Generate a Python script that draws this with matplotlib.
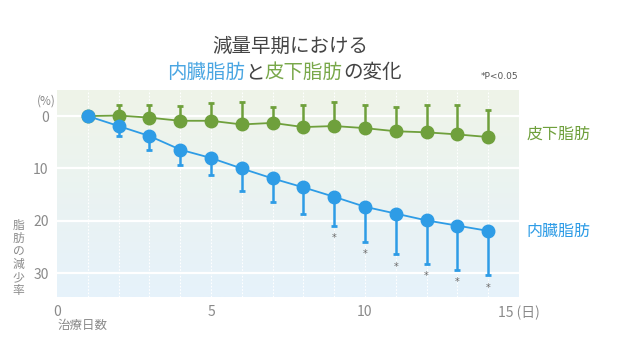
import matplotlib.pyplot as plt
import numpy as np

plt.rcParams['font.family'] = ['Noto Sans CJK JP', 'DejaVu Sans']

days = [1, 2, 3, 4, 5, 6, 7, 8, 9, 10, 11, 12, 13, 14]
visceral = [0, 1.9, 3.8, 6.4, 8.0, 10.0, 11.9, 13.6, 15.4, 17.3, 18.6, 19.9, 20.9, 21.9]
visceral_err = [0, 1.9, 2.6, 2.9, 3.3, 4.2, 4.4, 5.1, 5.5, 6.8, 7.8, 8.4, 8.5, 8.5]
subcut = [0, -0.1, 0.3, 0.9, 0.9, 1.6, 1.3, 2.1, 1.9, 2.3, 2.9, 3.1, 3.5, 4.0]
subcut_err = [0, 2.0, 2.4, 2.8, 3.3, 4.2, 3.1, 4.2, 4.5, 4.4, 4.7, 5.2, 5.6, 5.1]
signif = [False] * 8 + [True] * 6

xticks = [0, 5, 10, 15]
xticklabels = ['0', '5', '10', '15 (日)']
yticks = [0, 10, 20, 30]

blue = '#2e9ce6'
green = '#6fa03c'
gray = '#8a8a8a'

fig = plt.figure(figsize=(6.2, 3.51), dpi=100)
ax = fig.add_axes([0.092, 0.154, 0.745, 0.59])

# background gradient: greenish at top to light blue at bottom
top = np.array([0xef, 0xf4, 0xe8]) / 255
bot = np.array([0xe6, 0xf2, 0xfb]) / 255
t = np.linspace(0, 1, 200)[:, None]
grad = (top * (1 - t) + bot * t)[:, None, :]
ax.imshow(grad, extent=[0, 15, 34.5, -5], aspect='auto', zorder=0)

for d in days:
    ax.axvline(d, color='white', lw=0.8, ls=(0, (1.5, 1.5)), zorder=1)
for yv in yticks:
    ax.axhline(yv, color='white', lw=1.6, zorder=1)

ax.errorbar(days, subcut, yerr=[subcut_err, np.zeros(len(days))], color=green,
            lw=1.3, elinewidth=1.8, capsize=2, capthick=2, marker='o', ms=9,
            zorder=3)
ax.errorbar(days, visceral, yerr=[np.zeros(len(days)), visceral_err], color=blue,
            lw=1.3, elinewidth=1.8, capsize=2, capthick=2, marker='o', ms=9,
            zorder=4)

for d, v, e, s in zip(days, visceral, visceral_err, signif):
    if s:
        ax.text(d, v + e + 2.3, '*', color='#666666', fontsize=7,
                ha='center', va='center', family='DejaVu Sans')

ax.set_xlim(0, 15)
ax.set_ylim(34.5, -5)
ax.set_xticks(xticks)
ax.set_xticklabels(xticklabels)
ax.set_yticks(yticks)
ax.tick_params(length=0, labelsize=10, labelcolor=gray, pad=6)
for sp in ax.spines.values():
    sp.set_visible(False)

ax.text(-0.05, -2.8, '(%)', color=gray, fontsize=8.5, ha='right', va='center')
fig.text(0.030, 0.265, '脂\n肪\nの\n減\n少\n率', color=gray, fontsize=8.5,
         ha='center', va='center', linespacing=1.0)
fig.text(0.093, 0.073, '治療日数', color=gray, fontsize=9, ha='left', va='center')

ax.text(15.25, 3.5, '皮下脂肪', color=green, fontsize=11.5, ha='left', va='center',
        clip_on=False)
ax.text(15.25, 22.0, '内臓脂肪', color=blue, fontsize=11.5, ha='left', va='center',
        clip_on=False)

# title, second line in several colours
fig.text(0.468, 0.868, '減量早期における', color='#444444', fontsize=14,
         ha='center', va='center')
pieces = [('内臓脂肪', '#4aa6e2'), ('と', '#444444'), ('皮下脂肪', '#79a84a'),
          ('の変化', '#444444')]
prev = fig.text(0.270, 0.793, pieces[0][0], color=pieces[0][1], fontsize=14,
                ha='left', va='center')
for txt, col in pieces[1:]:
    prev = ax.annotate(txt, xy=(1, 0.5), xycoords=prev, color=col, fontsize=14,
                       ha='left', va='center', annotation_clip=False)

fig.text(0.805, 0.782, '*P<0.05', color='#555555', fontsize=6.5, ha='center',
         va='center', family='DejaVu Sans')

fig.savefig('out.png', dpi=100)
